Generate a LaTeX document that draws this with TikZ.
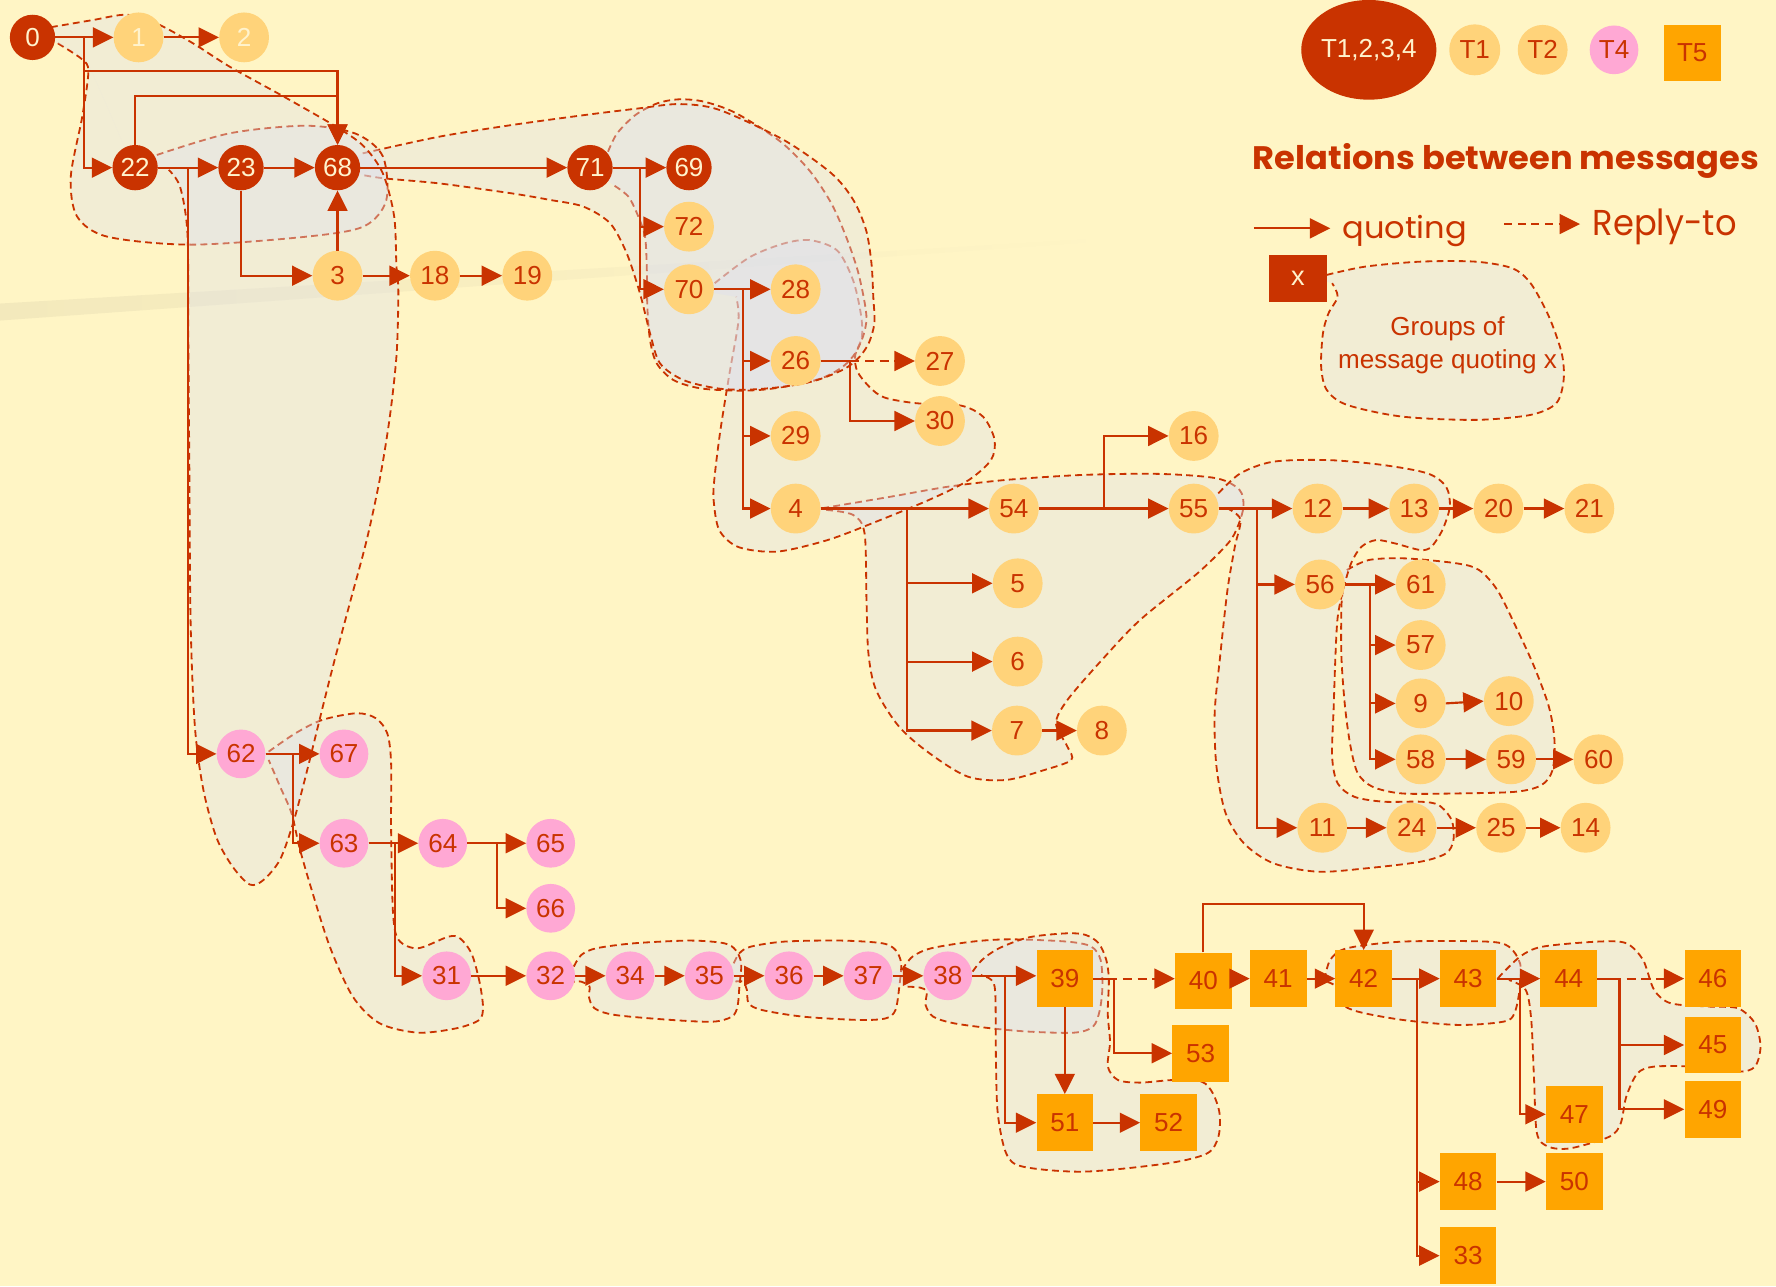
\documentclass[tikz,border=0pt]{standalone}
\usepackage{fontspec}
\usepackage{graphicx}
\setmainfont{Liberation Sans}
\newfontfamily\comicfont{Poppins}
\usetikzlibrary{arrows.meta,shapes.geometric}
\definecolor{bg}{RGB}{255,245,197}
\definecolor{dred}{RGB}{201,51,0}
\definecolor{lorange}{RGB}{255,211,122}
\definecolor{lpink}{RGB}{255,168,212}
\definecolor{sorange}{RGB}{255,165,0}
\definecolor{cream}{RGB}{255,243,205}
\definecolor{blobgray}{RGB}{221,224,239}
\definecolor{streak}{RGB}{243,233,188}
\newcommand\lbl{\fontsize{23}{27}\selectfont}
\newcommand\blobshape[2]{%
  \fill[blobfill] plot[smooth] coordinates {#1} -- #2 -- cycle;
  \draw[blobline] plot[smooth] coordinates {#1};}
\tikzset{
  dk/.style={circle, fill=dred, text=cream, minimum size=40pt, inner sep=0pt, font=\lbl},
  lo/.style={circle, fill=lorange, text=dred, minimum size=44pt, inner sep=0pt, font=\lbl},
  pk/.style={circle, fill=lpink, text=dred, minimum size=43pt, inner sep=0pt, font=\lbl},
  sq/.style={rectangle, fill=sorange, text=dred, minimum width=50pt, minimum height=50pt, inner sep=0pt, font=\lbl},
  quot/.style={draw=dred, line width=1.9pt, -{Triangle[length=18pt,width=17.5pt]}},
  reply/.style={quot, dash pattern=on 8pt off 5pt},
  blobfill/.style={fill=blobgray, fill opacity=0.38},
  blobline/.style={draw=dred, line width=1.6pt, dash pattern=on 6pt off 3.8pt},
}
\begin{document}
\begin{tikzpicture}[x=1pt,y=-1pt]
\fill[bg] (0,0) rectangle (1568,1135.4);
\useasboundingbox (0,0) rectangle (1568,1135.4);
\shade[left color=streak, right color=bg] (0,268) -- (1000,209) -- (1000,211) -- (0,283) -- cycle;

% ---------- groups (blobs) ----------
% G from 4
\blobshape{(726,448.7) (787,438.4) (837.6,429.6) (888.3,423.7) (955.9,419.3) (1023.5,418.4) (1074.2,422.3) (1094.4,432.6) (1097.8,447.3) (1092.7,465) (1084.3,479.6) (1057.3,506.1) (1006.6,547.3) (972.8,582.7) (942.4,618) (932.3,638.6) (942.4,659.2) (945.8,671) (922.1,679.8) (888.3,688.6) (854.5,685.7) (820.7,665.1) (793.7,641.5) (773.4,609.1) (766.7,576.8) (765,529.7) (763.3,470.8) (753.2,454.6) (729.5,450.2)}{(702.5,449)}
% J from 62
\blobshape{(237.2,663.6) (260.8,647.4) (284.5,635.6) (314.9,629.7) (331.8,634.1) (341.9,647.4) (345.3,673.9) (345.3,732.7) (347,806.3) (352,829.9) (369,837.2) (396,826.9) (406.1,828.4) (416.2,841.6) (423,865.2) (426.4,888.7) (423,900.5) (402.7,907.9) (369,911.7) (335.1,903.4) (311.5,879.9) (291.2,835.8) (274.3,782.8) (264.2,747.5) (257.4,718) (247.3,694.5) (237.2,670.9)}{(212.8,665.6)}
% E+F from 70
\blobshape{(631,250) (662,227) (692,215) (715,212) (739,221) (753,247) (760,277) (761,297) (755,314) (757,328) (768,342) (781,351) (809,356) (848,358) (868,368) (878,388) (875,406) (855,424) (821,441) (770,462) (730,477) (686,487) (652,483) (635,468) (630,441) (631,420) (636,380) (644,330) (652,283) (650,262)}{(608,255)}
% D from 71
\blobshape{(536.8,133.9) (544.8,117.8) (560.9,101.6) (580.1,91.3) (599.4,87.7) (621.8,89.8) (650,100) (689,125) (715,151) (734,179.6) (747,209) (757,238) (763,265) (765,282) (762,297) (755,312) (745,323) (730,332) (709.3,338.4) (676.9,343.7) (650.4,344.9) (618,342.8) (594.5,335.5) (579.8,320.8) (573.9,300.2) (571.5,270.7) (571,235.4) (569.5,209) (563.6,191.3) (554.8,173.6) (541.5,163.3)}{(521,148)}
% C from 68
\blobshape{(320.2,135.4) (387.6,120.7) (451.7,110.4) (515.9,101.6) (564,95.7) (599.4,91.9) (635,97) (692,123.6) (734,153) (753.4,176.6) (764.6,203) (769.4,232.5) (771,262) (772,285) (767,303) (758,316) (745,326) (720,336) (691.6,341.4) (660,344) (632.8,342.8) (603.3,335.5) (582.7,320.8) (573.9,294.3) (565,259) (553.3,223.6) (538.6,197.1) (515,182.4) (485.6,176.5) (451.7,170.7) (387.6,161.9) (339.4,157.5) (320.2,154.5)}{(298,148)}
% B from 22 / 0
\blobshape{(138.5,136.8) (202.7,117.7) (270,111) (314,118) (338,138) (341,177) (321,200) (270,209) (169,216) (95,209) (68,191) (62.5,156) (72.6,103) (78,63) (72,52) (49,37)}{(75,50) -- (95,95) -- (110,130) -- (119,147)}
% A from 0
\blobshape{(45,24) (82,17.7) (112,13) (138,20.6) (170,38) (203,59) (250,85) (297,112) (321,129) (338,153) (348,191) (350,235) (351.7,257) (350.2,312) (344.3,367) (335.5,422) (323.7,477) (309,532) (294.3,587) (282.5,634) (270.7,682) (259,726) (247.2,759) (232.5,777) (220.7,781) (206,766) (191.3,740) (179.5,697) (172.1,642) (168.3,550) (167.1,404) (166.2,294) (165.5,206) (159,165) (149,150)}{(119,147) -- (110,130) -- (95,95) -- (75,50) -- (49,37)}
% I from 56
\blobshape{(1189.1,503.3) (1208.6,494.4) (1241,493) (1286.4,497.4) (1305.9,503.3) (1322,521) (1338.3,553.3) (1354.5,588.6) (1367.5,624) (1372.4,653.4) (1370.7,679.9) (1361,693.1) (1338.3,699) (1286.4,700.5) (1237.8,700.5) (1211.8,694.6) (1198.8,682.8) (1192.4,659.3) (1187.5,624) (1184.3,579.8) (1184.3,535.7) (1185.9,518)}{(1165,516)}
% H from 55
\blobshape{(1075.6,435.6) (1095,418) (1124.3,407.6) (1172.9,406.2) (1221.5,410.6) (1260.5,418) (1276.7,429.7) (1280,447.4) (1273.4,468) (1263.7,482.7) (1254,485.6) (1231.3,479.7) (1215,476.8) (1202,482.7) (1193,497) (1186,520) (1181,545) (1179,580) (1177.5,624) (1176.1,668) (1181,691.6) (1195.6,703.4) (1221.5,707.8) (1254,707.8) (1270.2,710.8) (1281.6,724) (1283.2,741.7) (1276.7,753.4) (1254,760.8) (1205.3,766.7) (1163.2,769.6) (1124.3,762.2) (1098.3,744.6) (1082.1,718) (1074,676.9) (1072.4,629.8) (1077.2,579.8) (1083.7,520.9) (1090.2,482.7) (1095,458) (1080,447)}{(1054,449)}
% P from 35
\blobshape{(647.8,850.5) (652.8,841.6) (662.7,835.8) (692.6,831.3) (742.5,830.4) (779,832.8) (790.6,838.7) (795.6,850.5) (794,871) (790.6,891.7) (782.3,899) (759,900.5) (709.2,897.6) (672.7,891.7) (661,885.8) (659.4,874) (656,866.7) (647.8,866.7)}{(626,862)}
% L from 32
\blobshape{(506.6,853.4) (513.2,843.1) (526.5,837.2) (559.8,832.8) (609.6,830.4) (639.5,832.8) (649.4,838.7) (654.4,850.5) (652.8,871.1) (651.1,888.7) (646.1,897.6) (629.5,902) (593,900.5) (543.1,896.1) (524.9,890.2) (519.9,879.9) (520.5,871) (513.2,866.7) (506.6,866.7)}{(486,861.5)}
% M1 from 37
\blobshape{(796.3,856.4) (805.6,844.6) (822.2,837.2) (858.7,831.3) (892,829.3) (941.8,831.3) (963.4,835.7) (971.7,847.5) (973.3,871) (971,891.7) (965,906.4) (948.4,911.7) (908.5,910.8) (875.3,907.9) (842.1,903.4) (823.9,897.6) (817.2,887.3) (818.2,875.5) (812.2,871.9) (799,871)}{(766,861.5)}
% M2 from 38
\blobshape{(858.7,857.8) (867,847.5) (882,837.2) (908.6,827.5) (941.8,824) (958.4,825.4) (970,832.8) (976.7,847.5) (979,865.2) (978,894.6) (980,920) (978.1,941.7) (987,953.5) (1006.7,955.8) (1036.3,953.5) (1061,955) (1070.8,965.3) (1076.7,982.9) (1075.7,1003.5) (1065.9,1018.2) (1031.3,1027) (957.4,1034.4) (903.1,1030) (888.3,1018.2) (880.9,982.9) (879.3,935.8) (878.7,877) (875.3,865.2) (866,860.8)}{(836.8,861.5)}
% N from 41
\blobshape{(1169.4,865.2) (1174.4,847.5) (1189.2,837.2) (1238.5,831.3) (1312.5,831.3) (1332.2,835.8) (1342,850.5) (1342,871) (1337.1,894.6) (1327.3,902) (1287.8,904.9) (1238.5,900.5) (1199,893.2) (1184.2,885.8) (1179.3,871) (1172,867)}{(1160,866)}
% O from 43
\blobshape{(1322.4,863.7) (1342,844.6) (1361.8,835.8) (1411.1,831.3) (1435.8,832.8) (1450.6,847.5) (1460.4,874) (1475.2,885.8) (1509.8,888.7) (1534.5,890.2) (1549.4,903.5) (1554.3,924) (1549.4,941.7) (1534.5,946.1) (1494.9,941.7) (1460.4,941.7) (1445.7,947.6) (1435.8,968.2) (1430.9,991.7) (1421,1003.5) (1386.5,1013.8) (1366.8,1012.3) (1356.9,1000.5) (1354.4,953.5) (1351.9,900.5) (1347,874) (1332.2,865.2)}{(1296,864)}
% legend group
\blobshape{(1171.3,242.7) (1205.3,235.4) (1254,231) (1302.6,231) (1335,236.8) (1351.3,250) (1367.5,279.5) (1378.8,311.8) (1380.5,335.4) (1374,356) (1351.3,366.3) (1302.6,370.7) (1237.8,367.8) (1189.1,357.4) (1171.3,344.2) (1166.4,323.6) (1168,294.2) (1172.9,276.6) (1181,261.9) (1176.1,250)}{(1160,246)}

% ---------- nodes ----------
\node[dk] (n0) at (28.7,33) {0};
\node[lo, text=cream] (n1) at (122.3,33) {1};
\node[lo, text=cream] (n2) at (215.5,33) {2};
\node[dk] (n22) at (119.3,148) {22};
\node[dk] (n23) at (212.8,148) {23};
\node[dk] (n68) at (298,148) {68};
\node[dk] (n71) at (520.9,148) {71};
\node[dk] (n69) at (608.3,148) {69};
\node[lo] (n3) at (298,243.4) {3};
\node[lo] (n18) at (384,243.4) {18};
\node[lo] (n19) at (465.5,243.4) {19};
\node[lo] (n72) at (608.3,200.1) {72};
\node[lo] (n70) at (608.3,255.4) {70};
\node[lo] (n28) at (702.5,255.4) {28};
\node[lo] (n26) at (702.5,318.7) {26};
\node[lo] (n27) at (829.9,318.7) {27};
\node[lo] (n30) at (829.9,371.7) {30};
\node[lo] (n29) at (702.5,384.9) {29};
\node[lo] (n4) at (702.5,449) {4};
\node[lo] (n54) at (895.1,449) {54};
\node[lo] (n16) at (1053.9,384.9) {16};
\node[lo] (n55) at (1053.9,449) {55};
\node[lo] (n5) at (898.5,515) {5};
\node[lo] (n6) at (898.5,584.1) {6};
\node[lo] (n7) at (897.8,645) {7};
\node[lo] (n8) at (972.8,645) {8};
\node[lo] (n12) at (1163.2,449) {12};
\node[lo] (n13) at (1248.5,449) {13};
\node[lo] (n20) at (1323,449) {20};
\node[lo] (n21) at (1403.2,449) {21};
\node[lo] (n56) at (1165.4,516) {56};
\node[lo] (n61) at (1254.3,516) {61};
\node[lo] (n57) at (1254.3,569.5) {57};
\node[lo] (n9) at (1254.3,621) {9};
\node[lo] (n10) at (1332.1,619) {10};
\node[lo] (n58) at (1254.3,670.4) {58};
\node[lo] (n59) at (1334.1,670.4) {59};
\node[lo] (n60) at (1411.3,670.4) {60};
\node[lo] (n11) at (1167.4,730.8) {11};
\node[lo] (n24) at (1246.2,730.8) {24};
\node[lo] (n25) at (1325.3,730.8) {25};
\node[lo] (n14) at (1399.9,730.8) {14};
\node[pk] (n62) at (212.8,665.6) {62};
\node[pk] (n67) at (303.7,665.6) {67};
\node[pk] (n63) at (303.7,744.5) {63};
\node[pk] (n64) at (390.9,744.5) {64};
\node[pk] (n65) at (486.2,744.5) {65};
\node[pk] (n66) at (486.2,801.9) {66};
\node[pk] (n31) at (394.3,861.5) {31};
\node[pk] (n32) at (486.2,861.5) {32};
\node[pk] (n34) at (556.4,861.5) {34};
\node[pk] (n35) at (626.2,861.5) {35};
\node[pk] (n36) at (696.6,861.5) {36};
\node[pk] (n37) at (766.4,861.5) {37};
\node[pk] (n38) at (836.8,861.5) {38};
\node[sq] (n39) at (940.1,864) {39};
\node[sq] (n40) at (1062.4,866) {40};
\node[sq] (n41) at (1128.5,864) {41};
\node[sq] (n42) at (1204,864) {42};
\node[sq] (n43) at (1296.2,864) {43};
\node[sq] (n44) at (1385,864) {44};
\node[sq] (n46) at (1512.2,864) {46};
\node[sq] (n45) at (1512.2,922.6) {45};
\node[sq] (n49) at (1512.2,979.4) {49};
\node[sq] (n47) at (1389.9,983.8) {47};
\node[sq] (n53) at (1060,929.9) {53};
\node[sq] (n51) at (940.1,991.2) {51};
\node[sq] (n52) at (1031.8,991.2) {52};
\node[sq] (n48) at (1296.2,1043.2) {48};
\node[sq] (n50) at (1389.9,1043.2) {50};
\node[sq] (n33) at (1296.2,1108.6) {33};

% ---------- connectors ----------
\coordinate (b0) at (74.3,0);
\coordinate (j1) at (0,62.7);
\coordinate (j2) at (0,84.8);
\coordinate (b22) at (166.2,0);
\coordinate (b71) at (565,0);
\coordinate (b70) at (655.7,0);
\coordinate (b26) at (750.5,0);
\coordinate (b4) at (800.5,0);
\coordinate (b54) at (974.5,0);
\coordinate (b55) at (1109.7,0);
\coordinate (b56) at (1209.5,0);
\coordinate (b62) at (258.4,0);
\coordinate (b63) at (348.7,0);
\coordinate (b64) at (438.9,0);
\coordinate (b38) at (887.5,0);
\coordinate (b39) at (983.4,0);
\coordinate (j40) at (0,798.1);
\coordinate (b42) at (1250.8,0);
\coordinate (b43) at (1342.1,0);
\coordinate (b44) at (1429.8,0);

\draw[quot] (n0.east) -- (n1.west);
\draw[quot] (n1.east) -- (n2.west);
\draw[quot] (n0.east) -- (n0.east -| b0) |- (n22.west);
\draw[quot] (n0.east -| b0) -- (b0 |- j1) -| (n68.north);
\draw[quot] (n22.north) -- (n22.north |- j2) -| (n68.north);
\draw[quot] (n22.east) -- (n23.west);
\draw[quot] (n22.east) -- (n22.east -| b22) |- (n62.west);
\draw[quot] (n23.east) -- (n68.west);
\draw[quot] (n23.south) |- (n3.west);
\draw[quot] (n3.north) -- (n68.south);
\draw[quot] (n3.east) -- (n18.west);
\draw[quot] (n18.east) -- (n19.west);
\draw[quot] (n68.east) -- (n71.west);
\draw[quot] (n71.east) -- (n69.west);
\draw[quot] (n71.east) -- (n71.east -| b71) |- (n72.west);
\draw[quot] (n71.east) -- (n71.east -| b71) |- (n70.west);
\draw[quot] (n70.east) -- (n28.west);
\draw[quot] (n70.east) -- (n70.east -| b70) |- (n26.west);
\draw[quot] (n70.east) -- (n70.east -| b70) |- (n29.west);
\draw[quot] (n70.east) -- (n70.east -| b70) |- (n4.west);
\draw[quot] (n26.east) -- (n26.east -| b26) |- (n30.west);
\draw[reply] (n26.east) -- (n27.west);
\draw[quot] (n4.east) -- (n54.west);
\draw[quot] (n4.east) -- (n4.east -| b4) |- (n5.west);
\draw[quot] (n4.east) -- (n4.east -| b4) |- (n6.west);
\draw[quot] (n4.east) -- (n4.east -| b4) |- (n7.west);
\draw[quot] (n7.east) -- (n8.west);
\draw[quot] (n54.east) -- (n55.west);
\draw[quot] (n54.east) -- (n54.east -| b54) |- (n16.west);
\draw[quot] (n55.east) -- (n12.west);
\draw[quot] (n55.east) -- (n55.east -| b55) |- (n56.west);
\draw[quot] (n55.east) -- (n55.east -| b55) |- (n11.west);
\draw[quot] (n12.east) -- (n13.west);
\draw[quot] (n13.east) -- (n20.west);
\draw[quot] (n20.east) -- (n21.west);
\draw[quot] (n56.east) -- (n61.west);
\draw[quot] (n56.east) -- (n56.east -| b56) |- (n57.west);
\draw[quot] (n56.east) -- (n56.east -| b56) |- (n9.west);
\draw[quot] (n56.east) -- (n56.east -| b56) |- (n58.west);
\draw[quot] (n9.east) -- (n10.west);
\draw[quot] (n58.east) -- (n59.west);
\draw[quot] (n59.east) -- (n60.west);
\draw[quot] (n11.east) -- (n24.west);
\draw[quot] (n24.east) -- (n25.west);
\draw[quot] (n25.east) -- (n14.west);
\draw[quot] (n62.east) -- (n67.west);
\draw[quot] (n62.east) -- (n62.east -| b62) |- (n63.west);
\draw[quot] (n63.east) -- (n64.west);
\draw[quot] (n63.east) -- (n63.east -| b63) |- (n31.west);
\draw[quot] (n64.east) -- (n65.west);
\draw[quot] (n64.east) -- (n64.east -| b64) |- (n66.west);
\draw[quot] (n31.east) -- (n32.west);
\draw[quot] (n32.east) -- (n34.west);
\draw[quot] (n34.east) -- (n35.west);
\draw[quot] (n35.east) -- (n36.west);
\draw[quot] (n36.east) -- (n37.west);
\draw[quot] (n37.east) -- (n38.west);
\draw[quot] (n38.east) -- (n38.east -| n39.west);
\draw[quot] (n38.east) -- (n38.east -| b38) |- (n51.west);
\draw[quot] (n39.south) -- (n51.north);
\draw[quot] (n39.east) -- (n39.east -| b39) |- (n53.west);
\draw[reply] (n39.east) -- (n39.east -| n40.west);
\draw[quot] (n41.west -| n40.east) -- (n41.west);
\draw[quot] (n40.north) -- (n40.north |- j40) -| (n42.north);
\draw[quot] (n41.east) -- (n42.west);
\draw[quot] (n42.east) -- (n43.west);
\draw[quot] (n42.east) -- (n42.east -| b42) |- (n48.west);
\draw[quot] (n42.east) -- (n42.east -| b42) |- (n33.west);
\draw[quot] (n43.east) -- (n44.west);
\draw[quot] (n43.east) -- (n43.east -| b43) |- (n47.west);
\draw[reply] (n44.east) -- (n46.west);
\draw[quot] (n44.east) -- (n44.east -| b44) |- (n45.west);
\draw[quot] (n44.east) -- (n44.east -| b44) |- (n49.west);
\draw[quot] (n48.east) -- (n50.west);
\draw[quot] (n51.east) -- (n52.west);

% ---------- legend ----------
\node[ellipse, fill=dred, text=cream, minimum width=107pt, minimum height=88pt, inner sep=0pt, font=\lbl] (lt) at (1208.5,44) {T1,2,3,4};
\node[lo, minimum size=45pt] (lt1) at (1302,44) {T1};
\node[lo] (lt2) at (1362,44) {T2};
\node[pk] (lt4) at (1425,44) {T4};
\node[sq] (lt5) at (1494,46.8) {T5};
\node[anchor=base west, inner sep=0pt, text=dred] (title) at (1106,150) {\resizebox{447pt}{23pt}{\comicfont\bfseries Relations between messages}};
\coordinate (la1) at (1107,201.6);
\coordinate (la2) at (1174.5,201.6);
\draw[quot] (la1) -- (la2);
\node[anchor=base west, inner sep=0pt, text=dred] (lq) at (1185,210.4) {\resizebox{110pt}{20.5pt}{\comicfont quoting}};
\coordinate (lr1) at (1328,197.8);
\coordinate (lr2) at (1395,197.8);
\draw[quot, dash pattern=on 7pt off 5pt] (lr1) -- (lr2);
\node[anchor=base west, inner sep=0pt, text=dred] (lr) at (1406,207.5) {\resizebox{127pt}{23.5pt}{\comicfont Reply-to}};
\node[rectangle, fill=dred, text=cream, minimum width=50.6pt, minimum height=41pt, inner sep=0pt, font=\fontsize{24}{28}\selectfont] (lx) at (1146,245.7) {x};
\node[text=dred, align=center, inner sep=0pt, font=\fontsize{23}{29.4}\selectfont] (lg) at (1278,305) {Groups of\\message quoting x};
\end{tikzpicture}
\end{document}
